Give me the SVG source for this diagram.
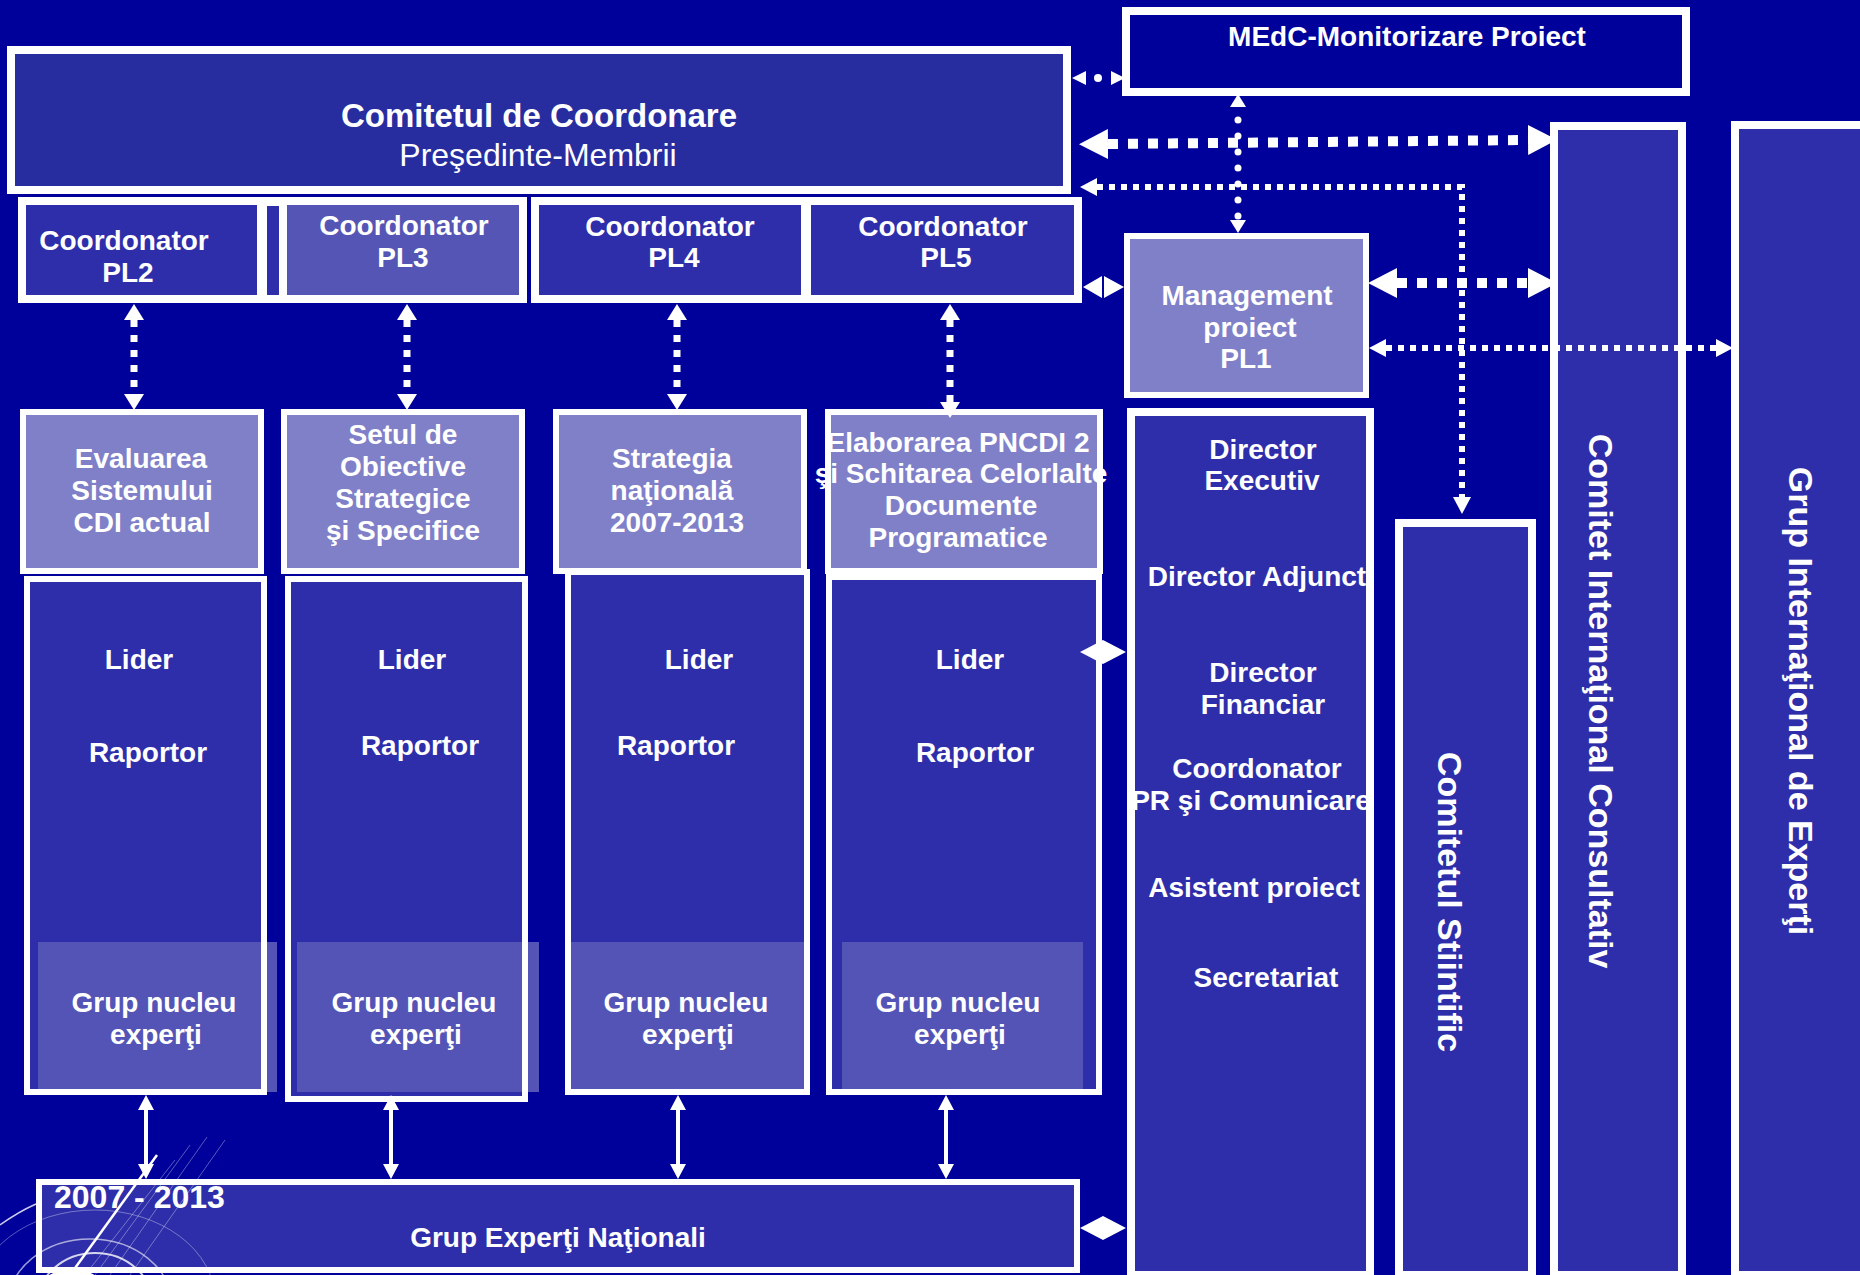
<svg xmlns="http://www.w3.org/2000/svg" width="1860" height="1275" viewBox="0 0 1860 1275">
<style>
.t{font-family:"Liberation Sans",Arial,sans-serif;font-weight:bold;font-size:28px;fill:#fff;text-anchor:middle}
.big{font-size:33px}
.reg{font-weight:normal;font-size:32px}
.vt{font-size:34px}
.yr{font-size:32px;text-anchor:start}
.box{stroke:#fff;stroke-width:8;fill:#2E2EAA}
.b6{stroke-width:6}
.lav{fill:#8080C9}
.mid{fill:#2E2EAA}
.edge{fill:none;stroke:#fff;stroke-width:6}
.panel{fill:#5454B6}
.dashB{stroke:#fff;stroke-width:10;stroke-dasharray:10 10;fill:none}
.dashS{stroke:#fff;stroke-width:6;stroke-dasharray:6 6;fill:none}
.dashV{stroke:#fff;stroke-width:7;stroke-dasharray:7 8;fill:none}
.solid{stroke:#fff;stroke-width:4;fill:none}
.dots{stroke:#fff;stroke-width:7;stroke-dasharray:0 16;stroke-dashoffset:3;stroke-linecap:round;fill:none}
.w{fill:#fff}
.deco{fill:none;stroke:#fff}
</style>
<defs>
<marker id="aBig" markerUnits="userSpaceOnUse" markerWidth="32" markerHeight="32" refX="0" refY="15" orient="auto-start-reverse" viewBox="0 0 32 32"><path d="M0,0 L29,15 L0,30 z" fill="#fff"/></marker>
<marker id="aSmall" markerUnits="userSpaceOnUse" markerWidth="20" markerHeight="20" refX="0" refY="9" orient="auto-start-reverse" viewBox="0 0 20 20"><path d="M0,0 L17,9 L0,18 z" fill="#fff"/></marker>
<marker id="aMed" markerUnits="userSpaceOnUse" markerWidth="20" markerHeight="22" refX="0" refY="10" orient="auto-start-reverse" viewBox="0 0 20 22"><path d="M0,0 L16,10 L0,20 z" fill="#fff"/></marker>
<marker id="aRound" markerUnits="userSpaceOnUse" markerWidth="16" markerHeight="18" refX="0" refY="8" orient="auto-start-reverse" viewBox="0 0 16 18"><path d="M0,0 L13,8 L0,16 z" fill="#fff"/></marker>
<marker id="aSolid" markerUnits="userSpaceOnUse" markerWidth="18" markerHeight="18" refX="0" refY="8" orient="auto-start-reverse" viewBox="0 0 18 18"><path d="M0,0 L15,8 L0,16 z" fill="#fff"/></marker>
<marker id="aTiny" markerUnits="userSpaceOnUse" markerWidth="16" markerHeight="16" refX="0" refY="7" orient="auto-start-reverse" viewBox="0 0 16 16"><path d="M0,0 L14,7 L0,14 z" fill="#fff"/></marker>
</defs>
<rect x="0" y="0" width="1860" height="1275" fill="#00009A"/>

<g id="comitetul">
<rect class="box" x="11" y="50" width="1056" height="140" style="fill:#272D9F"/>
<text class="t big" x="539" y="127">Comitetul de Coordonare</text>
<text class="t reg" x="538" y="166">Preşedinte-Membrii</text>
</g>
<g id="medc">
<rect class="box" x="1126" y="11" width="560" height="81" style="fill:#00009A"/>
<text class="t" x="1407" y="46">MEdC-Monitorizare Proiect</text>
</g>

<g id="coord-pl2">
<rect class="box" x="22" y="201" width="239" height="98"/>
<rect class="w" x="258" y="197" width="30" height="106"/>
<rect class="mid" x="267" y="206" width="12" height="89"/>
<text class="t" x="124" y="250">Coordonator</text>
<text class="t" x="128" y="282">PL2</text>
</g>
<g id="coord-pl3">
<rect class="box" x="283" y="201" width="240" height="98" style="fill:#5555B5"/>
<text class="t" x="404" y="235">Coordonator</text>
<text class="t" x="403" y="267">PL3</text>
</g>
<g id="coord-pl4">
<rect class="box" x="535" y="201" width="270" height="98"/>
<text class="t" x="670" y="236">Coordonator</text>
<text class="t" x="674" y="267">PL4</text>
</g>
<g id="coord-pl5">
<rect class="box" x="807" y="201" width="271" height="98"/>
<text class="t" x="943" y="236">Coordonator</text>
<text class="t" x="946" y="267">PL5</text>
</g>

<g id="management">
<rect class="box lav" x="1127" y="236" width="239" height="159" style="stroke-width:6;fill:#8080C9"/>
<text class="t" x="1247" y="305">Management</text>
<text class="t" x="1250" y="337">proiect</text>
<text class="t" x="1246" y="368">PL1</text>
</g>

<g id="task-evaluarea">
<rect class="box b6" x="23" y="412" width="238" height="159" style="fill:#8080C9"/>
<text class="t" x="141" y="468">Evaluarea</text>
<text class="t" x="142" y="500">Sistemului</text>
<text class="t" x="142" y="532">CDI actual</text>
</g>
<g id="task-setul">
<rect class="box b6" x="284" y="412" width="238" height="159" style="fill:#8080C9"/>
<text class="t" x="403" y="444">Setul de</text>
<text class="t" x="403" y="476">Obiective</text>
<text class="t" x="403" y="508">Strategice</text>
<text class="t" x="403" y="540">şi Specifice</text>
</g>
<g id="task-strategia">
<rect class="box b6" x="556" y="412" width="248" height="159" style="fill:#8080C9"/>
<text class="t" x="672" y="468">Strategia</text>
<text class="t" x="672" y="500">naţională</text>
<text class="t" x="677" y="532">2007-2013</text>
</g>
<g id="task-elaborarea">
<rect class="box b6" x="828" y="412" width="272" height="159" style="fill:#8080C9"/>
<text class="t" x="958" y="452">Elaborarea PNCDI 2</text>
<text class="t" x="961" y="483">şi Schitarea Celorlalte</text>
<text class="t" x="961" y="515">Documente</text>
<text class="t" x="958" y="547">Programatice</text>
</g>

<g id="lider-1">
<rect class="mid" x="27" y="579" width="237" height="513"/>
<rect class="panel" x="38" y="942" width="239" height="150"/>
<rect class="edge" x="27" y="579" width="237" height="513"/>
<text class="t" x="139" y="669">Lider</text>
<text class="t" x="148" y="762">Raportor</text>
<text class="t" x="154" y="1012">Grup nucleu</text>
<text class="t" x="156" y="1044">experţi</text>
</g>
<g id="lider-2">
<rect class="mid" x="288" y="579" width="237" height="520"/>
<rect class="panel" x="297" y="942" width="242" height="150"/>
<rect class="edge" x="288" y="579" width="237" height="520"/>
<text class="t" x="412" y="669">Lider</text>
<text class="t" x="420" y="755">Raportor</text>
<text class="t" x="414" y="1012">Grup nucleu</text>
<text class="t" x="416" y="1044">experţi</text>
</g>
<g id="lider-3">
<rect class="mid" x="568" y="572" width="239" height="520"/>
<rect class="panel" x="571" y="942" width="233" height="147"/>
<rect class="edge" x="568" y="572" width="239" height="520"/>
<text class="t" x="699" y="669">Lider</text>
<text class="t" x="676" y="755">Raportor</text>
<text class="t" x="686" y="1012">Grup nucleu</text>
<text class="t" x="688" y="1044">experţi</text>
</g>
<g id="lider-4">
<rect class="mid" x="829" y="577" width="270" height="515"/>
<rect class="panel" x="842" y="942" width="241" height="147"/>
<rect class="edge" x="829" y="577" width="270" height="515"/>
<text class="t" x="970" y="669">Lider</text>
<text class="t" x="975" y="762">Raportor</text>
<text class="t" x="958" y="1012">Grup nucleu</text>
<text class="t" x="960" y="1044">experţi</text>
</g>

<g id="grup-experti-nationali">
<rect class="box b6" x="39" y="1182" width="1038" height="88"/>
<text class="t yr" x="54" y="1208">2007 - 2013</text>
<text class="t" x="558" y="1247">Grup Experţi Naţionali</text>
</g>

<g id="director">
<rect class="box" x="1131" y="412" width="239" height="863"/>
<text class="t" x="1263" y="459">Director</text>
<text class="t" x="1262" y="490">Executiv</text>
<text class="t" x="1257" y="586">Director Adjunct</text>
<text class="t" x="1263" y="682">Director</text>
<text class="t" x="1263" y="714">Financiar</text>
<text class="t" x="1257" y="778">Coordonator</text>
<text class="t" x="1251" y="810">PR şi Comunicare</text>
<text class="t" x="1254" y="897">Asistent proiect</text>
<text class="t" x="1266" y="987">Secretariat</text>
</g>
<g id="comitetul-stiintific">
<rect class="box" x="1399" y="523" width="133" height="752"/>
<text class="t vt" transform="translate(1438,902) rotate(90)">Comitetul Stiintific</text>
</g>
<g id="comitet-international-consultativ">
<rect class="box" x="1554" y="126" width="128" height="1149"/>
<text class="t vt" transform="translate(1589,701) rotate(90)">Comitet Internaţional Consultativ</text>
</g>
<g id="grup-international-experti">
<rect class="box" x="1735" y="125" width="140" height="1150"/>
<text class="t vt" transform="translate(1789,701) rotate(90)">Grup Internaţional de Experţi</text>
</g>

<g id="connectors">
<path d="M1086,78 H1111" stroke="none" fill="none" marker-start="url(#aTiny)" marker-end="url(#aTiny)"/>
<circle class="w" cx="1098" cy="78" r="4"/>
<path class="dashB" d="M1108,144 L1528,140" marker-start="url(#aBig)" marker-end="url(#aBig)"/>
<path class="dashS" d="M1097,187 H1462 V497" marker-start="url(#aSmall)" marker-end="url(#aSmall)"/>
<path class="dots" d="M1238,107 V220" marker-start="url(#aRound)" marker-end="url(#aRound)"/>
<polygon class="w" points="1102,276 1083,287 1102,298"/>
<polygon class="w" points="1104,276 1124,287 1104,298"/>
<path class="dashB" d="M1397,283 H1528" marker-start="url(#aBig)" marker-end="url(#aBig)"/>
<path class="dashS" d="M1386,348 H1716" marker-start="url(#aSmall)" marker-end="url(#aSmall)"/>
<path class="dashV" d="M134,320 V394" marker-start="url(#aMed)" marker-end="url(#aMed)"/>
<path class="dashV" d="M407,320 V394" marker-start="url(#aMed)" marker-end="url(#aMed)"/>
<path class="dashV" d="M677,320 V394" marker-start="url(#aMed)" marker-end="url(#aMed)"/>
<path class="dashV" d="M950,320 V402" marker-start="url(#aMed)" marker-end="url(#aMed)"/>
<polygon class="w" points="1080,652 1103,640 1126,652 1103,664"/>
<polygon class="w" points="1080,1228 1103,1216 1126,1228 1103,1240"/>
<path class="solid" d="M146,1110 V1164" marker-start="url(#aSolid)" marker-end="url(#aSolid)"/>
<path class="solid" d="M391,1110 V1164" marker-start="url(#aSolid)" marker-end="url(#aSolid)"/>
<path class="solid" d="M678,1110 V1164" marker-start="url(#aSolid)" marker-end="url(#aSolid)"/>
<path class="solid" d="M946,1110 V1164" marker-start="url(#aSolid)" marker-end="url(#aSolid)"/>
</g>

<g id="decoration">
<path class="deco" d="M157,1155 L70,1275" stroke-width="2.5"/>
<path class="deco" d="M207,1137 L110,1275 M190,1145 L95,1275 M175,1160 L85,1275 M225,1140 L130,1275" stroke-width="1" opacity="0.35"/>
<path class="deco" d="M0,1225 Q18,1212 36,1204" stroke-width="1.5" opacity="0.8"/>
<ellipse class="deco" cx="90" cy="1305" rx="82" ry="66" stroke-width="1.5" opacity="0.6"/>
<ellipse class="deco" cx="95" cy="1305" rx="58" ry="52" stroke-width="2" opacity="0.8"/>
<ellipse class="deco" cx="95" cy="1300" rx="120" ry="90" stroke-width="1" opacity="0.35"/>
<ellipse class="w" cx="72" cy="1284" rx="28" ry="15"/>
</g>
</svg>
